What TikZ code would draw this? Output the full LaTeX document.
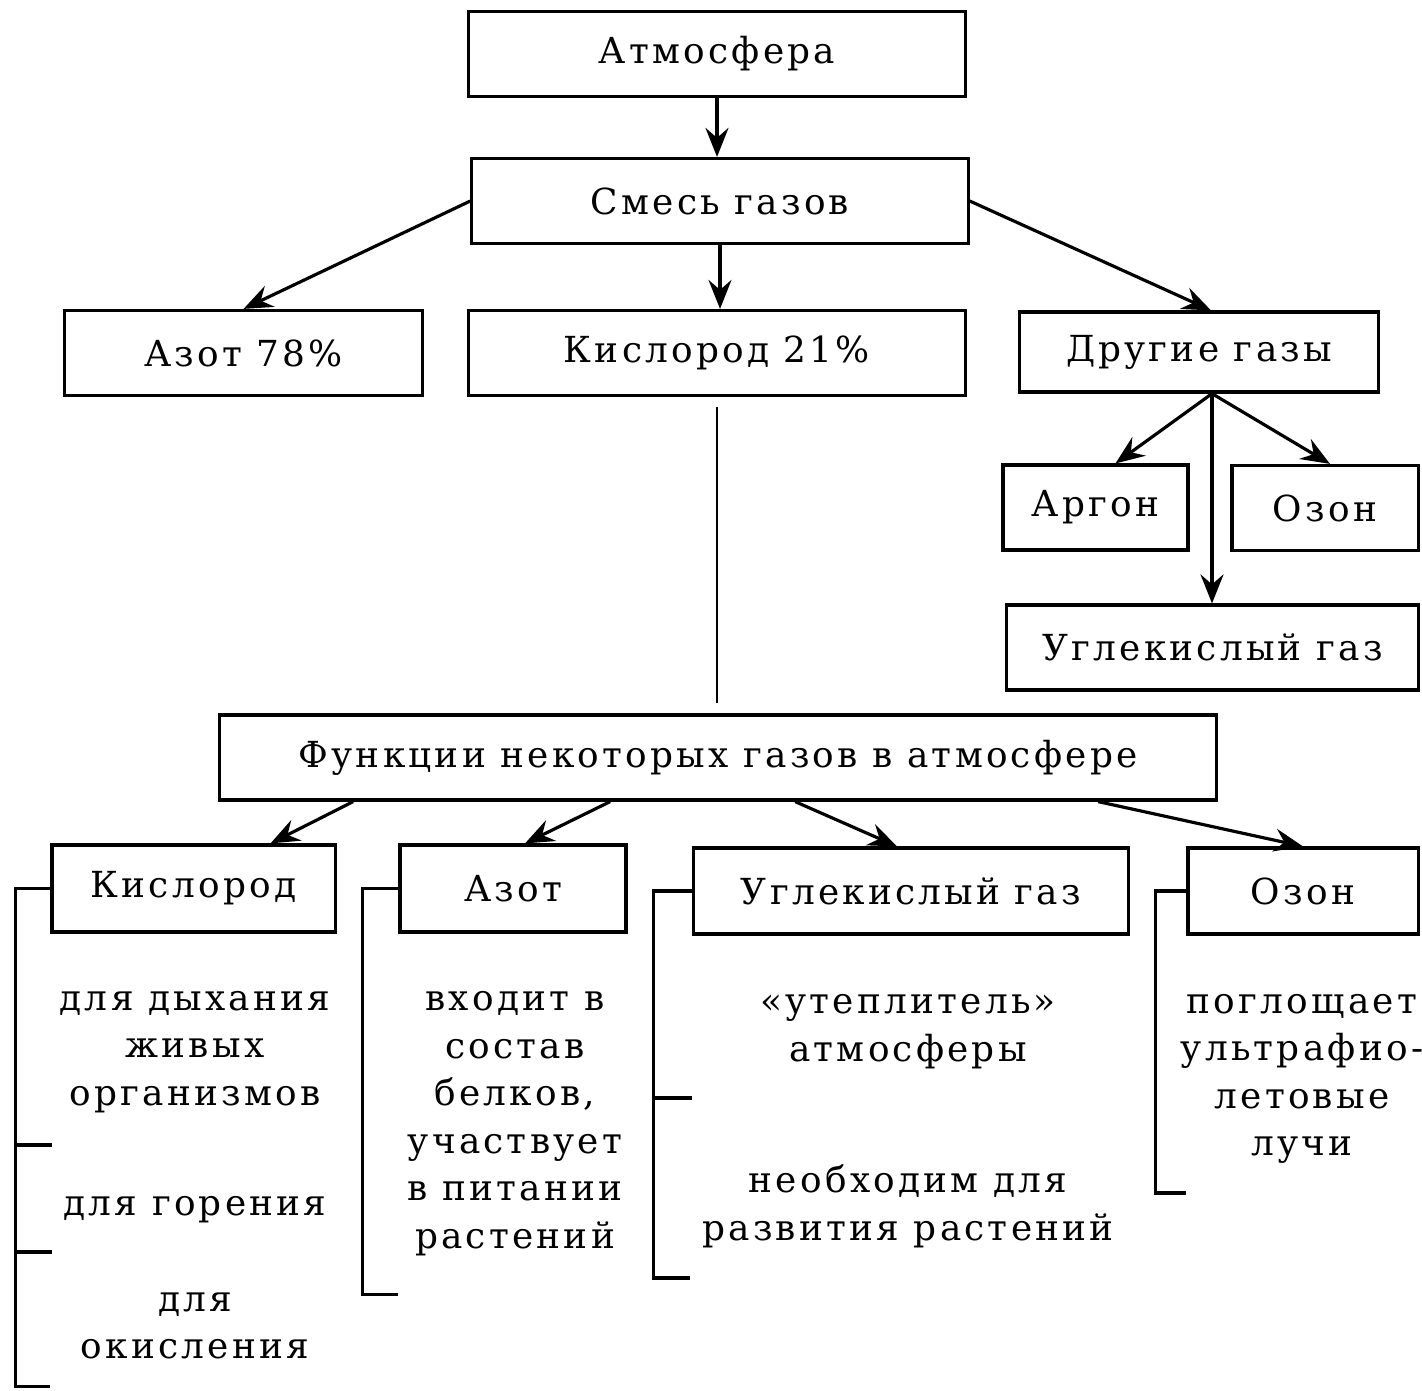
\documentclass[tikz,border=0pt]{standalone}
\usepackage{fontspec}
\setmainfont{DejaVu Serif}[LetterSpace=9]
\usetikzlibrary{arrows.meta,positioning,calc}
\newcommand{\gfont}{\fontsize{10.2}{13.5}\selectfont}
\tikzset{
  gbox/.style={draw=black, line width=0.9pt, minimum height=0.85cm, inner sep=0pt, font=\gfont},
  gtext/.style={align=center, font=\gfont},
  garrow/.style={-{Stealth[length=2.9mm, width=2.3mm, inset=1mm]}, line width=0.9pt},
  gline/.style={line width=0.8pt},
  gbrace/.style={line width=0.9pt},
}
\begin{document}
\begin{tikzpicture}[x=0.01cm, y=-0.01cm]
  \useasboundingbox (0,0) rectangle (1422,1390);
  % upper part
  \node[gbox, minimum width=4.96cm] (atm) at (717,54) {Атмосфера};
  \node[gbox, minimum width=4.96cm] (mix) at (720,201) {Смесь газов};
  \node[gbox, minimum width=3.57cm] (n78) at (243.5,353) {Азот 78\%};
  \node[gbox, minimum width=4.96cm] (o21) at (717,353) {Кислород 21\%};
  \node[gbox, minimum width=3.58cm, minimum height=0.8cm] (other) at (1199,352) {Другие газы};
  \node[gbox, minimum width=1.85cm] (argon) at (1095.5,507.5) {Аргон};
  \node[gbox, minimum width=1.86cm] (ozone) at (1325,508) {Озон};
  \node[gbox, minimum width=4.11cm] (co2a) at (1212.5,647.5) {Углекислый газ};
  \draw[garrow] (atm.south) -- (atm.south |- mix.north);
  \draw[garrow] (mix.west) -- (n78.north);
  \draw[garrow] (mix.south) -- (mix.south |- o21.north);
  \draw[garrow] (mix.east) -- ($(other.north)+(12,0)$);
  \coordinate (split) at ($(other.south)+(13,0)$);
  \draw[garrow] (split) -- ($(argon.north)+(20,0)$);
  \draw[garrow] (split) -- ($(ozone.north)+(5,0)$);
  \draw[garrow] (split) -- (split |- co2a.north);
  % lower part
  \node[gbox, minimum width=9.96cm] (func) at (718,757.5) {Функции некоторых газов в атмосфере};
  \draw[gline, shorten <=0.1cm, shorten >=0.1cm] (o21.south) -- (o21.south |- func.north);
  \node[gbox, minimum width=2.83cm, minimum height=0.87cm] (ox) at (193.5,888.5) {Кислород};
  \node[gbox, minimum width=2.26cm, minimum height=0.87cm] (nit) at (513,888.5) {Азот};
  \node[gbox, minimum width=4.34cm, minimum height=0.86cm] (co2b) at (911,891) {Углекислый газ};
  \node[gbox, minimum width=2.30cm, minimum height=0.86cm] (oz) at (1303,891) {Озон};
  \draw[garrow] ($(func.south west)+(135,0)$) -- ($(ox.north)+(77,0)$);
  \draw[garrow] ($(func.south west)+(392,0)$) -- ($(nit.north)+(12,0)$);
  \draw[garrow] ($(func.south west)+(577,0)$) -- ($(co2b.north)+(-14,0)$);
  \draw[garrow] ($(func.south west)+(880,0)$) -- (oz.north);
  % functions
  \node[gtext] (oxa) at (195,1052) {для дыхания\\живых\\организмов};
  \node[gtext] (oxb) at (195,1210) {для горения};
  \node[gtext] (oxc) at (195,1326) {для\\окисления};
  \node[gtext] (nita) at (515,1123.5) {входит в\\состав\\белков,\\участвует\\в питании\\растений};
  \node[gtext] (co2x) at (908,1031.5) {«утеплитель»\\атмосферы};
  \node[gtext] (co2y) at (908,1206.5) {необходим для\\развития растений};
  \node[gtext] (oza) at (1302,1079) {поглощает\\ультрафио-\\летовые\\лучи};
  % brackets
  \draw[gbrace] (ox.west) -- ++(-35,0) -- ++(0,498) -- ++(35,0);
  \draw[gbrace] (17,1145) -- ++(35,0);
  \draw[gbrace] (17,1252) -- ++(35,0);
  \draw[gbrace] (nit.west) -- ++(-36,0) -- ++(0,406) -- ++(36,0);
  \draw[gbrace] (co2b.west) -- ++(-39,0) -- ++(0,387) -- ++(37,0);
  \draw[gbrace] (655,1098) -- ++(37,0);
  \draw[gbrace] (oz.west) -- ++(-31,0) -- ++(0,302) -- ++(31,0);
\end{tikzpicture}
\end{document}
